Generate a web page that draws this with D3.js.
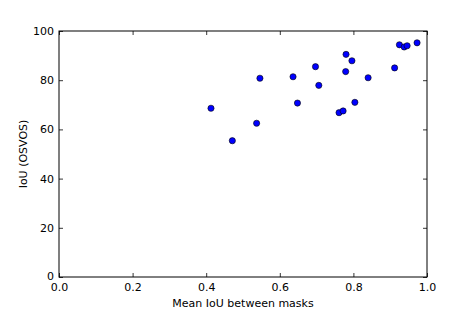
<!DOCTYPE html>
<html>
<head>
<meta charset="utf-8">
<script src="https://cdn.jsdelivr.net/npm/d3@7"></script>
<style>
  body { margin: 0; background: #fff; }
  text { font-family: "DejaVu Sans", sans-serif; }
</style>
</head>
<body>
<div id="chart"></div>
<script>
// mean IoU between masks vs IoU (OSVOS)
let meanIoU = [0.413, 0.471, 0.537, 0.546, 0.636, 0.648, 0.697, 0.706, 0.761, 0.772,
               0.780, 0.779, 0.796, 0.804, 0.840, 0.912, 0.925, 0.938, 0.946, 0.973];
let osvosIoU = [68.6, 55.4, 62.5, 80.8, 81.4, 70.7, 85.5, 77.9, 66.8, 67.5,
                90.5, 83.5, 87.9, 71.0, 81.0, 85.0, 94.4, 93.5, 94.0, 95.2];
let xTicks = [0, 0.2, 0.4, 0.6, 0.8, 1.0];
let yTicks = [0, 20, 40, 60, 80, 100];

let margin = {top: 31, right: 47, bottom: 40, left: 59},
    width = 474 - margin.left - margin.right,
    height = 317 - margin.top - margin.bottom;

let svg = d3.select("#chart")
    .append("svg")
        .attr("width", 474)
        .attr("height", 317)
    .append("g")
        .attr("transform", `translate(${margin.left},${margin.top})`);

let x = d3.scaleLinear().domain([0, 1]).range([0, width]);
let y = d3.scaleLinear().domain([0, 100]).range([height, 0]);

let fmtX = d3.format(".1f");

// ticks pointing inward on all four sides
function styleAxis(g) {
    g.select(".domain").remove();
    g.selectAll(".tick line").attr("stroke", "#000").attr("stroke-width", 0.8);
    g.selectAll(".tick text").attr("font-size", 11).attr("fill", "#000");
}

svg.append("g")
    .attr("transform", `translate(0,${height})`)
    .call(d3.axisBottom(x).tickValues(xTicks).tickFormat(fmtX).tickSizeInner(-4).tickPadding(6))
    .call(styleAxis);

svg.append("g")
    .call(d3.axisTop(x).tickValues(xTicks).tickFormat("").tickSizeInner(-4))
    .call(styleAxis);

svg.append("g")
    .call(d3.axisLeft(y).tickValues(yTicks).tickSizeInner(-4).tickPadding(5))
    .call(styleAxis);

// lift the "0" label a touch so it clears "0.0"
svg.selectAll("g.tick text")
    .filter(d => d === 0 && this !== null)
    .filter(function() { return this.getAttribute("x") !== null && +this.getAttribute("x") < 0; })
    .attr("dy", "0.22em");

svg.append("g")
    .attr("transform", `translate(${width},0)`)
    .call(d3.axisRight(y).tickValues(yTicks).tickFormat("").tickSizeInner(-4))
    .call(styleAxis);

svg.append("rect")
    .attr("width", width)
    .attr("height", height)
    .attr("fill", "none")
    .attr("stroke", "#000")
    .attr("stroke-width", 1);

svg.selectAll("dots")
    .data(meanIoU)
    .join("circle")
    .attr("cx", d => x(d))
    .attr("cy", (d, i) => y(osvosIoU[i]))
    .attr("r", 3.1)
    .attr("fill", "#0000ff")
    .attr("stroke", "#000")
    .attr("stroke-width", 0.6);

svg.append("text")
    .attr("x", width / 2)
    .attr("y", height + 30)
    .attr("text-anchor", "middle")
    .attr("font-size", 11)
    .text("Mean IoU between masks");

svg.append("text")
    .attr("transform", `translate(-32.5,${height / 2}) rotate(-90)`)
    .attr("text-anchor", "middle")
    .attr("font-size", 11)
    .text("IoU (OSVOS)");
</script>
</body>
</html>
